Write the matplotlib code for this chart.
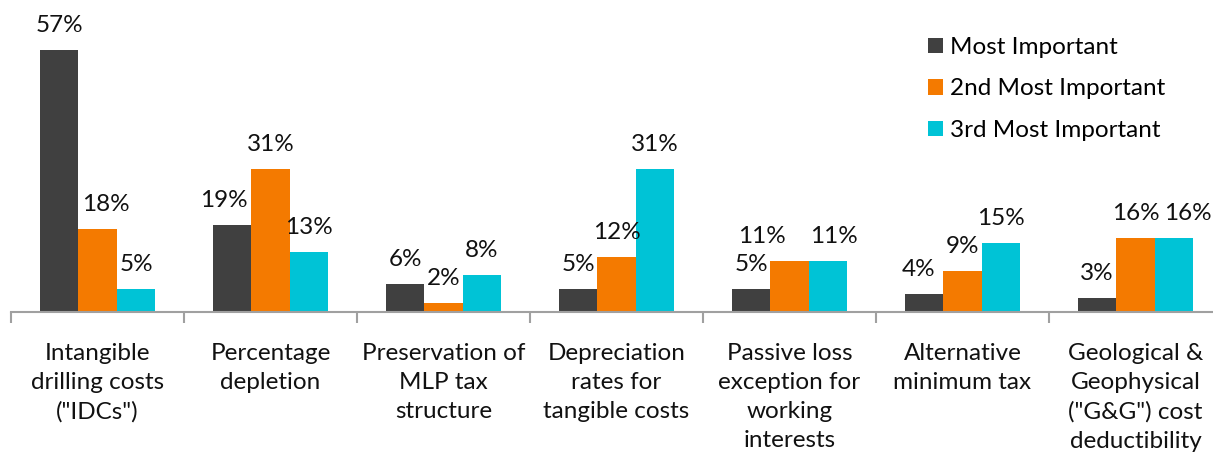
import matplotlib.pyplot as plt
import numpy as np
from matplotlib.patches import Patch

plt.rcParams['font.family'] = ['Lato', 'DejaVu Sans']

categories = ['Intangible\ndrilling costs\n("IDCs")',
              'Percentage\ndepletion',
              'Preservation of\nMLP tax\nstructure',
              'Depreciation\nrates for\ntangible costs',
              'Passive loss\nexception for\nworking\ninterests',
              'Alternative\nminimum tax',
              'Geological &\nGeophysical\n("G&G") cost\ndeductibility']
series_names = ['Most Important', '2nd Most Important', '3rd Most Important']
most_important = [57, 19, 6, 5, 5, 4, 3]
second_important = [18, 31, 2, 12, 11, 9, 16]
third_important = [5, 13, 8, 31, 11, 15, 16]
colors = ['#404040', '#F47A00', '#00C3D6']

W, H = 1213, 455
fig = plt.figure(figsize=(W / 100, H / 100), dpi=100)
# axis extends a bit beyond the right edge, like the original
ax = fig.add_axes([11 / W, (H - 312) / H, 1211 / W, 312 / H])

x = np.arange(len(categories))
bw = 0.2225
fs = 17.5
# sideways nudges (points) for labels that would collide, (category, series)
nudge = {(0, 1): 6, (1, 0): -6, (4, 1): -20, (4, 2): 4, (6, 2): 10, (5, 0): -4}
for k, (vals, c) in enumerate(zip([most_important, second_important, third_important], colors)):
    pos = x + (k - 1) * bw
    ax.bar(pos, vals, width=bw, color=c, zorder=2)
    for i, (p, v) in enumerate(zip(pos, vals)):
        ax.annotate(f'{v}%', (p, v), xytext=(nudge.get((i, k), 0), 13),
                    textcoords='offset points',
                    ha='center', va='baseline', fontsize=fs, color='#111111',
                    annotation_clip=False)

ax.set_xlim(-0.5, len(categories) - 0.5)
ax.set_ylim(0, 67.8)
for s in ['top', 'right', 'left']:
    ax.spines[s].set_visible(False)
ax.spines['bottom'].set_color('#A0A0A0')
ax.spines['bottom'].set_linewidth(1.5)
ax.set_yticks([])

ax.set_xticks(np.arange(-0.5, len(categories)), labels=[])
ax.tick_params(axis='x', which='major', length=8, width=1.5, color='#A0A0A0')
ax.set_xticks(x, labels=categories, minor=True)
ax.tick_params(axis='x', which='minor', length=0, pad=22)
for lab in ax.get_xticklabels(minor=True):
    lab.set_fontsize(fs)
    lab.set_linespacing(1.48)
    lab.set_color('#111111')

handles = [Patch(facecolor=c, edgecolor='none') for c in colors]
fig.legend(handles, series_names, loc='upper left', bbox_to_anchor=(928 / W, 1 - 37 / H),
           frameon=False, fontsize=fs, handlelength=0.6, handleheight=0.6,
           handletextpad=0.3, labelspacing=0.84, borderpad=0, borderaxespad=0)

fig.savefig('out.png', dpi=100)
